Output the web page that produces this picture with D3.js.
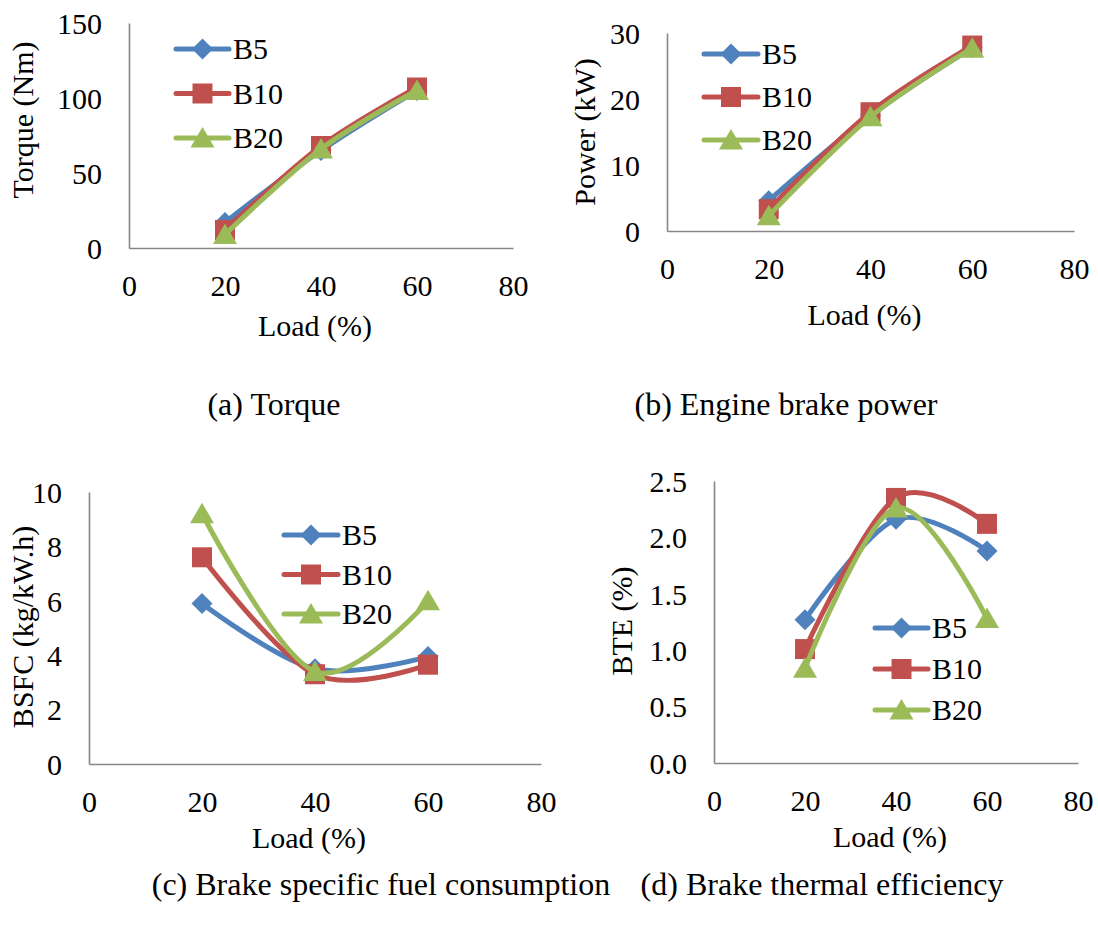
<!DOCTYPE html>
<html>
<head>
<meta charset="utf-8">
<script src="https://cdn.jsdelivr.net/npm/d3@7"></script>
<style>
  body { margin: 0; background: #fff; }
  svg text { font-family: "Liberation Serif", "Times New Roman", Times, serif !important; fill: #000; }
</style>
</head>
<body>
<svg id="svg1" width="1098" height="930" font-family="Liberation Serif, serif"></svg>
<script>
// data
const loadPct = [20, 40, 60];
const seriesNames = ["B5", "B10", "B20"];
const xTicks = [0, 20, 40, 60, 80];

const torqueVals = [[17, 65, 105], [12, 68, 107], [9, 66, 105]];
const powerVals = [[4.6, 17.5, 27.8], [3.3, 18.0, 28.1], [2.3, 17.3, 27.7]];
const bsfcVals = [[5.9, 3.5, 3.95], [7.6, 3.3, 3.65], [9.2, 3.4, 6.0]];
const bteVals = [[1.27, 2.16, 1.88], [1.01, 2.35, 2.12], [0.84, 2.26, 1.28]];

const torqueTicks = [0, 50, 100, 150];
const powerTicks = [0, 10, 20, 30];
const bsfcTicks = [0, 2, 4, 6, 8, 10];
const bteTicks = [0, 0.5, 1.0, 1.5, 2.0, 2.5];

const colors = ["#4F81BD", "#C0504D", "#9BBB59"];
const markers = [
    "M0,-10.5L10.5,0L0,10.5L-10.5,0Z",  // diamond
    "M-10,-10H10V10H-10Z",              // square
    "M0,-11L12,9.5L-12,9.5Z"            // triangle
];

var svg = d3.select("#svg1");

function drawPanel(p) {
    var x = d3.scaleLinear().domain([0, 80]).range([p.x0, p.x1]);
    var y = d3.scaleLinear().domain([0, p.ticks[p.ticks.length - 1]]).range([p.yBot, p.yTop]);
    var g = svg.append("g");

    var xa = g.append("g")
        .attr("transform", "translate(0," + p.yBot + ")")
        .call(d3.axisBottom(x).tickValues(xTicks).tickSize(0).tickSizeOuter(0).tickPadding(27));
    var ya = g.append("g")
        .attr("transform", "translate(" + p.x0 + ",0)")
        .call(d3.axisLeft(y).tickValues(p.ticks).tickSize(0).tickSizeOuter(0).tickPadding(27)
            .tickFormat(d3.format(p.fmt)));
    [xa, ya].forEach(function(a) {
        a.attr("font-family", null).attr("font-size", null);
        a.select(".domain").attr("stroke", "#868686").attr("stroke-width", 1.6);
        a.selectAll("text").style("font-size", "30px").attr("fill", "#000");
    });
    ya.selectAll("text").attr("dy", "0.34em");

    g.append("text")
        .attr("x", (p.x0 + p.x1) / 2 - 6)
        .attr("y", p.yBot + p.loadDy)
        .attr("text-anchor", "middle")
        .style("font-size", "30px")
        .text("Load (%)");

    g.append("text")
        .attr("transform", "translate(" + p.titleX + "," + p.titleY + ") rotate(-90)")
        .attr("text-anchor", "middle")
        .attr("dy", "0.34em")
        .style("font-size", "30px")
        .text(p.yTitle);

    var line = d3.line()
        .x(function(d, i) { return x(loadPct[i]); })
        .y(function(d) { return y(d); })
        .curve(d3.curveCardinal.tension(0));

    p.vals.forEach(function(vals, s) {
        g.append("path")
            .attr("d", line(vals))
            .attr("fill", "none")
            .attr("stroke", colors[s])
            .attr("stroke-width", 5)
            .attr("stroke-linejoin", "round")
            .attr("stroke-linecap", "round");
        g.selectAll(null).data(vals).enter().append("path")
            .attr("d", markers[s])
            .attr("fill", colors[s])
            .attr("transform", function(d, i) { return "translate(" + x(loadPct[i]) + "," + y(d) + ")"; });
    });

    // legend
    var leg = g.selectAll(".legend-item-" + p.id)
        .data(seriesNames)
        .enter()
        .append("g")
        .attr("transform", function(d, i) { return "translate(0," + (p.legY + i * p.legStep) + ")"; });
    leg.append("line")
        .attr("x1", p.legX0).attr("x2", p.legX1)
        .attr("stroke", function(d, i) { return colors[i]; })
        .attr("stroke-width", 5)
        .attr("stroke-linecap", "round");
    leg.append("path")
        .attr("d", function(d, i) { return markers[i]; })
        .attr("fill", function(d, i) { return colors[i]; })
        .attr("transform", "translate(" + (p.legX0 + p.legX1) / 2 + ",0)");
    leg.append("text")
        .attr("x", p.legX1 + 4)
        .attr("dy", "0.34em")
        .style("font-size", "30px")
        .text(function(d) { return d; });

    svg.append("text")
        .attr("x", p.capX)
        .attr("y", p.capY)
        .attr("text-anchor", "middle")
        .style("font-size", "32px")
        .text(p.caption);
}

drawPanel({id: "a", x0: 129, x1: 513, yTop: 23, yBot: 248, ticks: torqueTicks, fmt: "d", vals: torqueVals,
    yTitle: "Torque (Nm)", titleX: 23, titleY: 120, loadDy: 88,
    legX0: 176, legX1: 229, legY: 49, legStep: 44.5,
    caption: "(a) Torque", capX: 274, capY: 415});
drawPanel({id: "b", x0: 667, x1: 1074, yTop: 33, yBot: 231, ticks: powerTicks, fmt: "d", vals: powerVals,
    yTitle: "Power (kW)", titleX: 585, titleY: 132, loadDy: 94,
    legX0: 704, legX1: 758, legY: 54, legStep: 43,
    caption: "(b) Engine brake power", capX: 786, capY: 415});
drawPanel({id: "c", x0: 89, x1: 541, yTop: 492, yBot: 764, ticks: bsfcTicks, fmt: "d", vals: bsfcVals,
    yTitle: "BSFC (kg/kW.h)", titleX: 23, titleY: 627, loadDy: 84,
    legX0: 284, legX1: 338, legY: 535, legStep: 39.5,
    caption: "(c) Brake specific fuel consumption", capX: 381, capY: 895});
drawPanel({id: "d", x0: 714, x1: 1078, yTop: 481, yBot: 763, ticks: bteTicks, fmt: ".1f", vals: bteVals,
    yTitle: "BTE (%)", titleX: 622, titleY: 621, loadDy: 84,
    legX0: 875, legX1: 928, legY: 628, legStep: 41,
    caption: "(d) Brake thermal efficiency", capX: 822, capY: 895});
</script>
</body>
</html>
